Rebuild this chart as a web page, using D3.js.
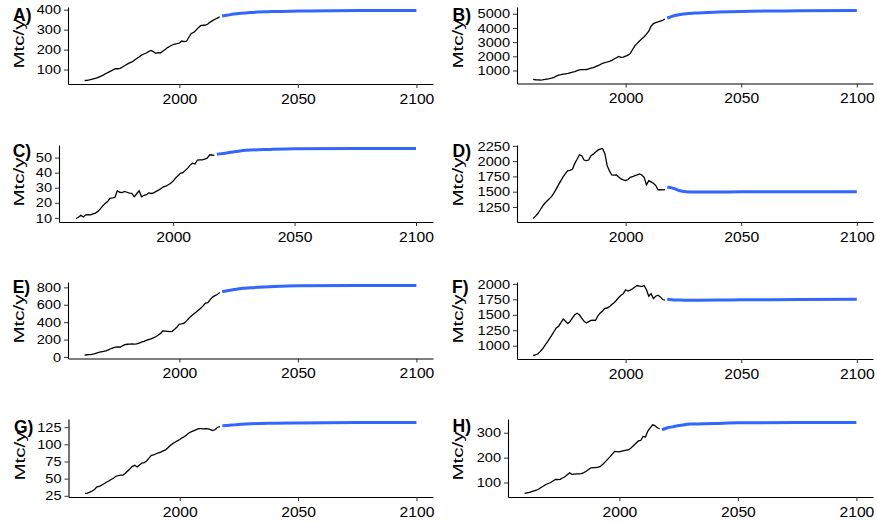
<!DOCTYPE html>
<html>
<head>
<meta charset="utf-8">
<script src="https://cdn.jsdelivr.net/npm/d3@7"></script>
<style>
  body { margin: 0; background: #fff; }
  svg { display: block; }
  text { font-family: "Liberation Sans", Arial, sans-serif; }
</style>
</head>
<body>
<svg id="chart" width="877" height="523"></svg>
<script>
// historical series 1960-2017, projection on a few anchor years
const histYears = d3.range(1960, 2018);
const projYears = [2018, 2020, 2023, 2026, 2030, 2040, 2050, 2075, 2100];
const xTicks = [2000, 2050, 2100];
const panelLabels = ["A)", "B)", "C)", "D)", "E)", "F)", "G)", "H)"];

const histA = [45, 46, 48, 51, 54, 57, 62, 67, 73, 80, 86, 92, 98, 104, 104, 106, 113, 120, 127, 133,
  138, 147, 155, 163, 172, 178, 183, 190, 196, 190, 181, 185, 183, 192, 200, 210, 217, 223, 228, 230,
  233, 243, 240, 242, 262, 281, 286, 297, 310, 320, 322, 323, 328, 338, 345, 352, 358, 364];
const projA = [368, 372, 378, 382, 386, 391, 393, 396, 396];
const ticksA = [100, 200, 300, 400];

const histB = [376, 350, 335, 330, 345, 370, 400, 430, 470, 515, 600, 676, 710, 750, 770, 792, 840, 880, 930, 990,
  1046, 1060, 1060, 1070, 1120, 1170, 1208, 1270, 1347, 1420, 1509, 1550, 1600, 1647, 1720, 1810, 1902, 1994, 1925, 1950,
  2017, 2080, 2202, 2480, 2734, 2910, 3081, 3230, 3381, 3560, 3774, 4121, 4306, 4370, 4422, 4480, 4537, 4630];
const projB = [4700, 4815, 4930, 5000, 5046, 5115, 5162, 5208, 5231];
const ticksB = [1000, 2000, 3000, 4000, 5000];

const histC = [9.6, 10.4, 11.7, 10.6, 12.0, 12.1, 12.0, 12.6, 13.2, 14.3, 16.0, 18.0, 19.5, 20.8, 23.0, 23.2, 23.6, 28.0, 27.0, 26.8,
  27.5, 27.0, 26.4, 26.2, 24.0, 26.0, 28.0, 24.0, 25.0, 25.4, 26.6, 26.2, 26.6, 27.6, 28.4, 29.5, 30.5, 31.0, 32.0, 33.0,
  34.4, 36.5, 38.0, 39.5, 40.0, 41.5, 43.0, 45.0, 46.3, 45.7, 48.3, 48.4, 48.5, 49.0, 49.6, 51.7, 51.8, 51.5];
const projC = [52.2, 52.6, 53.3, 54.0, 54.8, 55.4, 55.8, 56.0, 56.0];
const ticksC = [10, 20, 30, 40, 50];

const histD = [1061, 1100, 1142, 1200, 1261, 1310, 1347, 1385, 1423, 1480, 1547, 1615, 1682, 1745, 1801, 1845, 1850, 1872, 1963, 2030,
  2104, 2088, 2018, 2010, 2018, 2088, 2115, 2150, 2180, 2195, 2207, 2126, 1926, 1840, 1774, 1770, 1774, 1740, 1709, 1695,
  1682, 1700, 1736, 1745, 1763, 1775, 1790, 1774, 1736, 1612, 1682, 1660, 1639, 1601, 1531, 1535, 1531, 1535];
const projD = [1574, 1563, 1520, 1499, 1493, 1495, 1499, 1499, 1499];
const ticksD = [1250, 1500, 1750, 2000, 2250];

const histE = [22, 25, 27, 30, 36, 44, 52, 58, 64, 71, 82, 94, 105, 112, 116, 112, 128, 142, 146, 148,
  150, 148, 150, 160, 170, 179, 190, 200, 209, 220, 232, 250, 269, 299, 297, 295, 292, 295, 318, 345,
  378, 380, 389, 415, 445, 470, 493, 515, 538, 560, 587, 620, 624, 660, 688, 705, 718, 740];
const projE = [751, 762, 775, 788, 796, 811, 819, 822, 822];
const ticksE = [0, 200, 400, 600, 800];

const histF = [842, 850, 868, 905, 947, 1000, 1053, 1110, 1168, 1230, 1289, 1316, 1375, 1432, 1395, 1358, 1395, 1450, 1500, 1526,
  1500, 1445, 1395, 1368, 1390, 1410, 1412, 1410, 1484, 1530, 1563, 1605, 1610, 1632, 1665, 1695, 1735, 1779, 1815, 1842,
  1905, 1884, 1900, 1921, 1950, 1974, 1965, 1958, 1974, 1905, 1800, 1842, 1763, 1800, 1816, 1790, 1747, 1737];
const projF = [1753, 1745, 1740, 1737, 1737, 1740, 1742, 1748, 1753];
const ticksF = [1000, 1250, 1500, 1750, 2000];

const histG = [28.4, 29.0, 30.3, 32.0, 34.2, 38.0, 38.6, 40.5, 42.5, 44.8, 46.5, 48.7, 50.5, 53.5, 54.5, 55.0, 55.0, 58.0, 61.2, 64.5,
  68.0, 69.4, 67.0, 70.0, 72.8, 73.5, 75.7, 80.0, 84.0, 84.5, 86.3, 87.5, 88.8, 90.5, 92.0, 95.0, 98.4, 101.0, 103.0, 105.0,
  107.0, 109.5, 111.5, 114.0, 117.0, 118.5, 120.0, 121.5, 123.0, 123.0, 122.6, 122.8, 122.6, 121.5, 120.0, 121.6, 125.0, 126.0];
const projG = [127, 127.6, 128.4, 129.2, 130, 130.8, 131.3, 131.8, 131.8];
const ticksG = [25, 50, 75, 100, 125];

const histH = [56, 58, 60, 63, 66, 69, 74, 80, 86, 92, 96, 100, 106, 112, 112, 113, 118, 123, 131, 139,
  133, 134, 135, 135, 136, 140, 145, 152, 159, 160, 160, 162, 165, 173, 183, 193, 203, 214, 225, 224,
  223, 226, 228, 230, 232, 240, 249, 258, 267, 269, 285, 283, 307, 320, 332, 329, 320, 316];
const projH = [312, 319, 325, 330, 335, 337, 340, 341, 341];
const ticksH = [100, 200, 300];

// panel boxes: left, right, top, bottom (px)
const panels = [
  { hist: histA, proj: projA, ticks: ticksA, box: [68, 433, 7, 84],   lab: [13, 21] },
  { hist: histB, proj: projB, ticks: ticksB, box: [517, 873, 7, 83.5], lab: [452.5, 21] },
  { hist: histC, proj: projC, ticks: ticksC, box: [59, 433, 145, 222],  lab: [12.7, 157] },
  { hist: histD, proj: projD, ticks: ticksD, box: [517, 873, 145, 222], lab: [452.5, 157] },
  { hist: histE, proj: projE, ticks: ticksE, box: [68, 433, 282, 358.5], lab: [12.7, 293] },
  { hist: histF, proj: projF, ticks: ticksF, box: [517, 873, 282, 359], lab: [452, 293] },
  { hist: histG, proj: projG, ticks: ticksG, box: [68.5, 433, 419, 497], lab: [14, 433] },
  { hist: histH, proj: projH, ticks: ticksH, box: [508, 873, 419, 497], lab: [452.5, 432] }
];

const svg = d3.select("#chart");

function expand(lo, hi) {
  const pad = (hi - lo) * 0.05;
  return [lo - pad, hi + pad];
}

// the source figure's text is a little wider than plain Arial
function widen(sel, k) {
  sel.each(function () {
    const w = this.getComputedTextLength();
    d3.select(this).attr("textLength", w * k).attr("lengthAdjust", "spacingAndGlyphs");
  });
}

panels.forEach((p, i) => {
  const [left, right, top, bottom] = p.box;
  const g = svg.append("g");

  const x = d3.scaleLinear()
    .domain(expand(histYears[0], projYears[projYears.length - 1]))
    .range([left, right]);
  const allVals = p.hist.concat(p.proj);
  const y = d3.scaleLinear()
    .domain(expand(d3.min(allVals), d3.max(allVals)))
    .range([bottom, top]);

  // x axis
  const xa = g.append("g")
    .attr("transform", `translate(0,${bottom})`)
    .call(d3.axisBottom(x).tickValues(xTicks).tickFormat(d3.format("d")).tickSize(4).tickSizeOuter(0).tickPadding(5.5));
  xa.selectAll("text").attr("font-size", "14.5px").attr("fill", "#000").call(widen, 1.08);

  // y axis
  const ya = g.append("g")
    .attr("transform", `translate(${left},0)`)
    .call(d3.axisLeft(y).tickValues(p.ticks).tickFormat(d3.format("d")).tickSize(4).tickSizeOuter(0).tickPadding(3));
  ya.selectAll("text").attr("font-size", "13px").attr("fill", "#000").call(widen, 1.12);

  g.selectAll(".domain").attr("stroke", "#000").attr("stroke-width", 1.1);
  g.selectAll(".tick line").attr("stroke", "#333");
  g.selectAll("g").attr("font-family", null);

  // lines
  const histLine = d3.line().x((d, j) => x(histYears[j])).y(d => y(d));
  g.append("path")
    .attr("d", histLine(p.hist))
    .attr("fill", "none")
    .attr("stroke", "#000")
    .attr("stroke-width", 1.3);

  const projLine = d3.line().x((d, j) => x(projYears[j])).y(d => y(d)).curve(d3.curveMonotoneX);
  g.append("path")
    .attr("d", projLine(p.proj))
    .attr("fill", "none")
    .attr("stroke", "#3366FF")
    .attr("stroke-width", 3);

  // y title
  g.append("text")
    .attr("transform", `translate(${p.lab[0] + 10.8},${top + 37}) rotate(-90)`)
    .attr("text-anchor", "middle")
    .attr("font-size", "14.5px")
    .attr("textLength", 49)
    .attr("lengthAdjust", "spacingAndGlyphs")
    .text("Mtc/y");

  // panel label
  g.append("text")
    .attr("x", p.lab[0])
    .attr("y", p.lab[1])
    .attr("font-size", "17.5px")
    .attr("font-weight", "bold")
    .text(panelLabels[i]);
});
</script>
</body>
</html>
